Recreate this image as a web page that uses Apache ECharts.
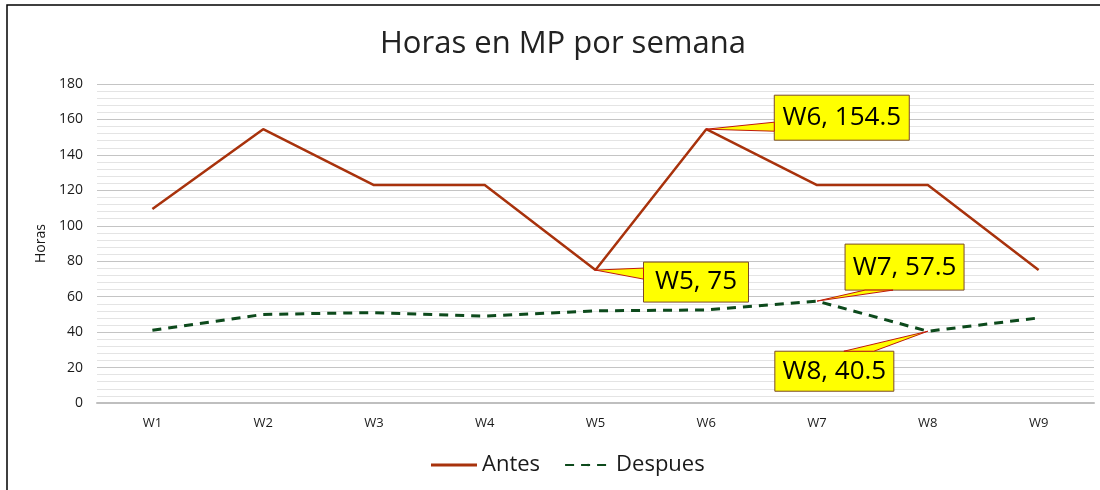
<!DOCTYPE html>
<html><head><meta charset="utf-8">
<script src="https://cdn.jsdelivr.net/npm/echarts@6/dist/echarts.min.js"></script>
<style>html,body{margin:0;padding:0;background:#fff}#c{width:1100px;height:490px}</style>
</head><body><div id="c"></div>
<script>
const categories = ['W1','W2','W3','W4','W5','W6','W7','W8','W9'];
const antes = [109.5, 154.5, 123, 123, 75, 154.5, 123, 123, 75];
const despues = [41, 50, 51, 49, 52, 52.5, 57.5, 40.5, 48];
const yTicks = [0, 20, 40, 60, 80, 100, 120, 140, 160, 180];
const calloutIdx = [{s:'antes',i:5},{s:'antes',i:4},{s:'despues',i:6},{s:'despues',i:7}];

// callout placement (style only): box offset from point, size, wedge base on box
const calloutStyle = [
  {dx:68, dy:-34, w:135, h:45, b:[[0,27],[0,36]]},
  {dx:48, dy:-8, w:105, h:40, b:[[0,6],[0,17]]},
  {dx:28, dy:-57, w:119, h:46, b:[[20,46],[48,46]]},
  {dx:-153, dy:20, w:119, h:40, b:[[69,0],[99,0]]}
];
const seriesData = {antes, despues};
const calloutData = calloutIdx.map(c => [c.i, seriesData[c.s][c.i], categories[c.i] + ', ' + seriesData[c.s][c.i]]);

const chart = echarts.init(document.getElementById('c'), null, {renderer:'canvas'});
const FONT = '"Open Sans", "Noto Sans", sans-serif';
chart.setOption({
  animation:false,
  backgroundColor:'#fff',
  title:{text:'Horas en MP por semana', left:375, top:24,
    textStyle:{fontFamily:FONT, fontSize:31, fontWeight:'normal', color:'#222'}},
  legend:{bottom:9, left:426, itemWidth:46, itemHeight:3, itemGap:24,
    textStyle:{fontFamily:FONT, fontSize:22, color:'#1a1a1a'},
    data:[{name:'Antes', icon:'rect'}, {name:'Despues'}]},
  grid:{left:97, right:6, top:84, bottom:87},
  xAxis:{type:'category', data:categories, boundaryGap:true,
    axisLine:{lineStyle:{color:'#bfbfbf', width:2}}, axisTick:{show:false},
    axisLabel:{fontFamily:FONT, fontSize:13, color:'#1a1a1a', margin:14}},
  yAxis:{type:'value', min:0, max:180, interval:20,
    name:'Horas', nameLocation:'middle', nameGap:48, nameRotate:90,
    nameTextStyle:{fontFamily:FONT, fontSize:14, color:'#1a1a1a'},
    axisLabel:{fontFamily:FONT, fontSize:14, color:'#1a1a1a', margin:14,
      formatter:v => yTicks.includes(v) ? String(v) : ''},
    axisLine:{show:false}, axisTick:{show:false},
    splitLine:{lineStyle:{color:'#c4c4c4', width:1.2}},
    minorTick:{show:false, splitNumber:5},
    minorSplitLine:{show:true, lineStyle:{color:'#e4e4e4', width:1.2}}},
  series:[
    {name:'Antes', type:'line', data:antes, symbol:'none',
      lineStyle:{color:'#a8320c', width:2.5}, itemStyle:{color:'#a8320c'}},
    {name:'Despues', type:'line', data:despues, symbol:'none',
      lineStyle:{color:'#0d4a1c', width:3, type:[9,7]}, itemStyle:{color:'#0d4a1c'}},
    {name:'callouts', type:'custom', data:calloutData, z:10, silent:true,
      renderItem:function(params, api){
        const st = calloutStyle[params.dataIndex];
        const p = api.coord([api.value(0), api.value(1)]);
        const bx = p[0] + st.dx, by = p[1] + st.dy;
        const b1 = [bx + st.b[0][0], by + st.b[0][1]];
        const b2 = [bx + st.b[1][0], by + st.b[1][1]];
        return {type:'group', children:[
          {type:'rect', shape:{x:bx, y:by, width:st.w, height:st.h},
            style:{fill:'#ffff00', stroke:'#7a4a2a', lineWidth:1}},
          {type:'polygon', shape:{points:[p, b1, b2]},
            style:{fill:'#ffff00', stroke:'#c0180c', lineWidth:1}},
          {type:'text', style:{text:calloutData[params.dataIndex][2],
            x:bx + st.w/2, y:by + st.h/2, align:'center', verticalAlign:'middle',
            fontFamily:FONT, fontSize:26, fill:'#000'}}
        ]};
      }}
  ],
  graphic:[{type:'rect', shape:{x:7, y:5, width:1200, height:600},
    style:{fill:'none', stroke:'#000', lineWidth:1.5}, z:100, silent:true}]
});
</script></body></html>
